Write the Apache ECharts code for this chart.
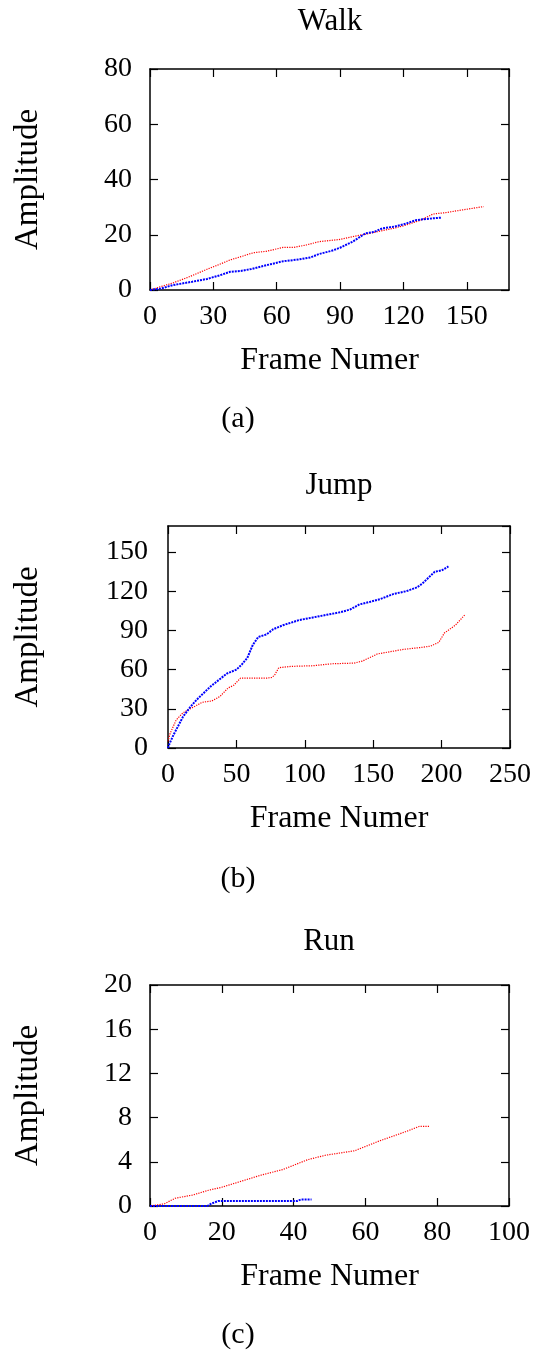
<!DOCTYPE html>
<html>
<head>
<meta charset="utf-8">
<script src="https://cdn.jsdelivr.net/npm/echarts@6/dist/echarts.min.js"></script>
<style>
  html, body { margin: 0; padding: 0; background: #fff; }
  #chart { width: 537px; height: 1350px; }
</style>
</head>
<body>
<div id="chart"></div>
<script>
// Walk
const walkRedFrames = [0, 5, 11, 18, 27, 32, 38, 44, 49, 55, 63, 68, 74, 80, 90, 97, 104, 115, 120, 128, 134, 140, 148, 158];
const walkRedAmp = [0, 1.2, 2.6, 4.6, 7.5, 9, 10.9, 12.3, 13.5, 14, 15.4, 15.4, 16.3, 17.5, 18.3, 19.5, 20.5, 22.3, 23.2, 25.2, 27.5, 28, 29, 30.2];
const walkBlueFrames = [0, 5, 11, 20, 27, 33, 38, 43, 48, 51, 57, 63, 70, 76, 80, 86, 90, 96, 102, 106, 110, 116, 121, 126, 132, 138];
const walkBlueAmp = [0, 0.5, 1.8, 3, 4, 5.3, 6.6, 6.9, 7.6, 8.2, 9.3, 10.4, 11, 11.8, 13, 14.2, 15.3, 17.5, 20.5, 21, 22.3, 23, 24, 25.3, 25.8, 26.2];

// Jump
const jumpRedFrames = [0, 1.5, 6, 11, 18, 25, 32, 38, 44, 48, 53, 72, 76, 78, 81, 90, 106, 120, 136, 142, 148, 153, 172, 185, 192, 198, 202, 210, 217];
const jumpRedAmp = [5, 11, 21.5, 27, 31, 35, 36, 39.5, 46, 48, 53.5, 53.5, 54, 56, 61.5, 62.5, 63, 64.5, 65, 66.5, 69.5, 72, 75.5, 77, 78, 81, 88, 94, 102];
const jumpBlueFrames = [0, 1, 4, 7, 11, 16, 21, 26, 31, 37, 43, 50, 54, 58, 62, 66, 72, 77, 84, 96, 106, 116, 126, 133, 140, 148, 155, 165, 174, 182, 186, 189, 195, 200, 205];
const jumpBlueAmp = [0, 3, 10, 16, 24, 31, 37, 42, 47, 52, 57, 60, 64, 69, 79, 85, 87, 91, 94, 98, 100, 102, 104, 106, 110, 112, 114, 118, 120, 123, 126, 129, 135, 136, 139];

// Run
const runRedFrames = [0, 4, 7, 12, 16, 20, 26, 31, 37, 44, 49, 57, 64, 71, 75, 78];
const runRedAmp = [0, 0.2, 0.7, 1.0, 1.4, 1.7, 2.3, 2.8, 3.3, 4.2, 4.6, 5.0, 5.9, 6.7, 7.2, 7.2];
const runBlueFrames = [0, 16, 17, 19, 41, 42, 45];
const runBlueAmp = [0, 0, 0.2, 0.45, 0.45, 0.58, 0.58];

const titles = ["Walk", "Jump", "Run"];
const captions = ["(a)", "(b)", "(c)"];

const FONT = "Liberation Serif";
const zip = (xs, ys) => xs.map((x, i) => [x, ys[i]]);

const chart = echarts.init(document.getElementById("chart"));

const panels = [
  { grid: { left: 150, top: 69, width: 359, height: 221 }, x: [0, 170, 30], y: [0, 80, 20], red: zip(walkRedFrames, walkRedAmp), blue: zip(walkBlueFrames, walkBlueAmp), yGap: 105, yMargin: 18 },
  { grid: { left: 168, top: 526, width: 342, height: 222 }, x: [0, 250, 50], y: [0, 170, 30], red: zip(jumpRedFrames, jumpRedAmp), blue: zip(jumpBlueFrames, jumpBlueAmp), yGap: 123, yMargin: 20 },
  { grid: { left: 150, top: 985, width: 359, height: 221 }, x: [0, 100, 20], y: [0, 20, 4], red: zip(runRedFrames, runRedAmp), blue: zip(runBlueFrames, runBlueAmp), yGap: 105, yMargin: 18 }
];

const lineCommon = { show: true, onZero: false, lineStyle: { color: "#000", width: 1.5 } };
const tickCommon = { show: true, inside: true, length: 8, lineStyle: { color: "#000", width: 1.2 } };

const grid = [], xAxis = [], yAxis = [], series = [];
panels.forEach((p, i) => {
  grid.push(p.grid);
  const [xmin, xmax, xint] = p.x;
  const [ymin, ymax, yint] = p.y;
  const hideX = xmax % xint !== 0;
  const hideY = ymax % yint !== 0;
  xAxis.push({
    type: "value", gridIndex: i, min: xmin, max: xmax, interval: xint, position: "bottom",
    name: "Frame Numer", nameLocation: "middle", nameGap: 55,
    nameTextStyle: { fontFamily: FONT, fontSize: 32, color: "#000" },
    axisLine: lineCommon, axisTick: tickCommon, splitLine: { show: false },
    axisLabel: { fontFamily: FONT, fontSize: 28, color: "#000", margin: 13, showMaxLabel: !hideX }
  });
  xAxis.push({
    type: "value", gridIndex: i, min: xmin, max: xmax, interval: xint, position: "top",
    axisLine: lineCommon, axisTick: tickCommon, splitLine: { show: false }, axisLabel: { show: false }
  });
  yAxis.push({
    type: "value", gridIndex: i, min: ymin, max: ymax, interval: yint, position: "left",
    name: "Amplitude", nameLocation: "middle", nameGap: p.yGap,
    nameTextStyle: { fontFamily: FONT, fontSize: 33, color: "#000" },
    axisLine: lineCommon, axisTick: tickCommon, splitLine: { show: false },
    axisLabel: { fontFamily: FONT, fontSize: 28, color: "#000", margin: p.yMargin, showMaxLabel: !hideY }
  });
  yAxis.push({
    type: "value", gridIndex: i, min: ymin, max: ymax, interval: yint, position: "right",
    axisLine: lineCommon, axisTick: tickCommon, splitLine: { show: false }, axisLabel: { show: false }
  });
  series.push({
    type: "line", xAxisIndex: i * 2, yAxisIndex: i * 2, data: p.red, showSymbol: false,
    lineStyle: { color: "#ff0000", width: 1.2, type: "dotted" }, silent: true
  });
  series.push({
    type: "line", xAxisIndex: i * 2, yAxisIndex: i * 2, data: p.blue, showSymbol: false,
    lineStyle: { color: "#0000ff", width: 2, type: [2, 1] }, silent: true
  });
});

const textPos = [
  { title: [330, 22], cap: [238, 419] },
  { title: [339, 486], cap: [238, 879] },
  { title: [329, 942], cap: [238, 1335] }
];
const graphic = [];
textPos.forEach((t, i) => {
  graphic.push({ type: "text", x: t.title[0], y: t.title[1], style: { text: titles[i], font: "31px " + FONT, fill: "#000", align: "center", verticalAlign: "middle" } });
  graphic.push({ type: "text", x: t.cap[0], y: t.cap[1], style: { text: captions[i], font: "30px " + FONT, fill: "#000", align: "center", verticalAlign: "middle" } });
});

chart.setOption({ animation: false, grid, xAxis, yAxis, series, graphic });
</script>
</body>
</html>
